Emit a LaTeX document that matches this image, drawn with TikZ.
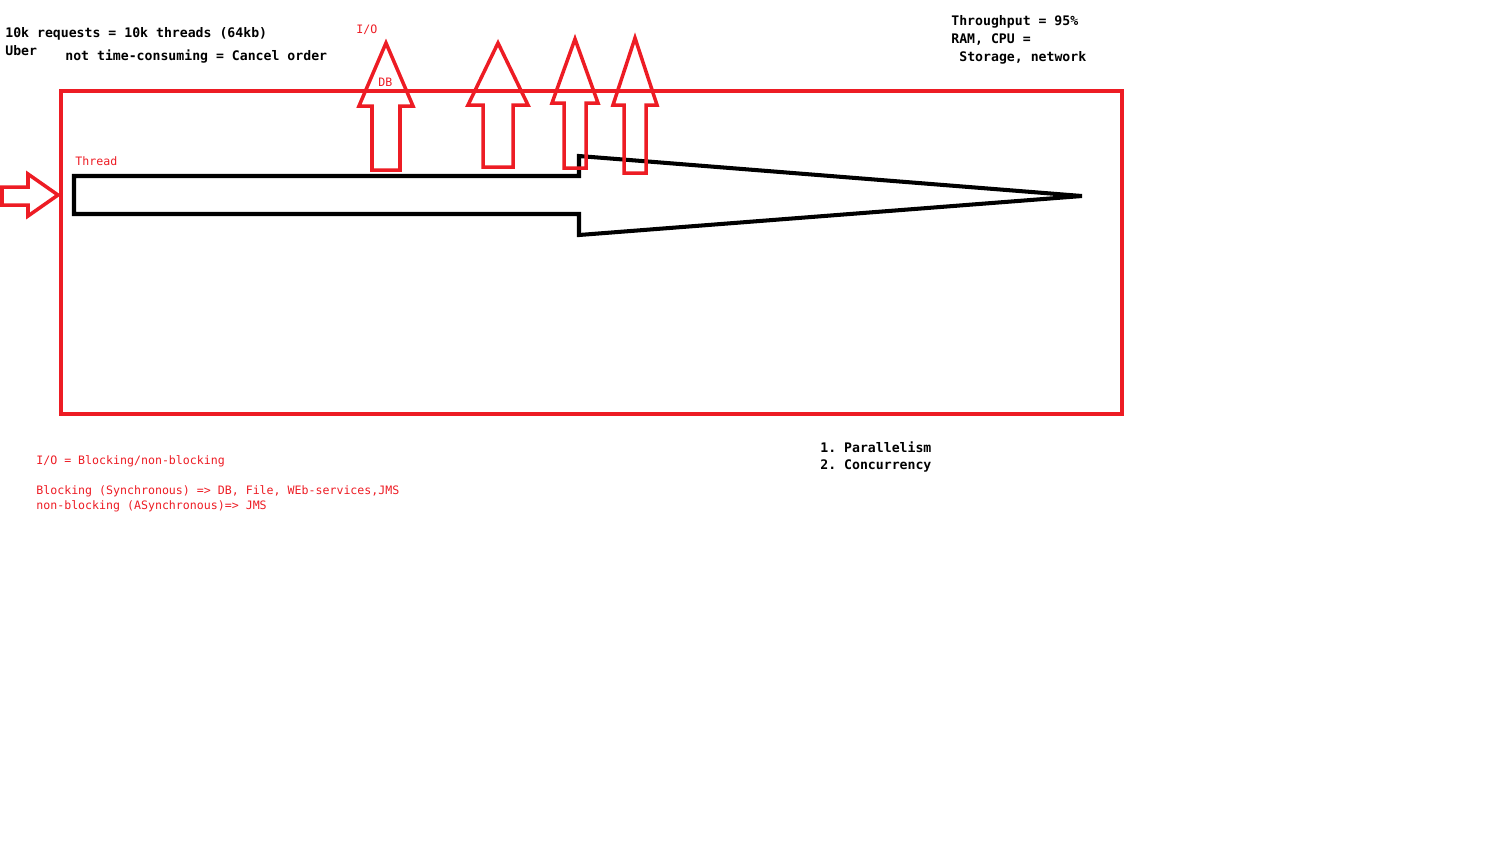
\documentclass[tikz,border=0pt]{standalone}
\usepackage{fontspec}
\setmonofont{DejaVu Sans Mono}
\definecolor{crojo}{HTML}{ED1C24}
\tikzset{
  marco/.style={draw=crojo,line width=1.8pt},
  hilo/.style={draw=black,line width=2.3pt,line join=miter},
  flechaio/.style={draw=crojo,line width=2pt,line join=miter},
  txt/.style={font=\ttfamily\bfseries\fontsize{7.5}{9}\selectfont,inner sep=0pt,anchor=west},
  txtr/.style={font=\ttfamily\fontsize{6.6}{8}\selectfont,text=crojo,inner sep=0pt,anchor=west},
}
\begin{document}
\begin{tikzpicture}[x=0.02cm,y=-0.02cm]
\useasboundingbox (0,0) rectangle (1500,840);

\draw[marco] (61,91) rectangle (1122,414);

\draw[hilo] (74,176) -- (579,176) -- (579,156) -- (1082,196) -- (579,235) -- (579,214) -- (74,214) -- cycle;

\draw[flechaio] (2,187) -- (28,187) -- (28,174) -- (58,195) -- (28,216) -- (28,205) -- (2,205) -- cycle;

\foreach \cx/\ty/\hw/\sw/\by/\ey in {386/43/27/14/106/170, 498/43/30/15/105/167, 575/39/23/11/103/168, 635/38/22/11/105/173}{
  \draw[flechaio] (\cx,\ty) -- (\cx+\hw,\by) -- (\cx+\sw,\by) -- (\cx+\sw,\ey)
    -- (\cx-\sw,\ey) -- (\cx-\sw,\by) -- (\cx-\hw,\by) -- cycle;
}

\node[txt] (titulo) at (5,33.5) {10k requests = 10k threads (64kb)};
\node[txt] (uber) at (5,51) {Uber};
\node[txt] (cancela) at (65,56) {not time-consuming = Cancel order};
\node[txtr] (io) at (356,30) {I/O};
\node[txtr] (db) at (378,82) {DB};
\node[txtr] (hilotxt) at (75,161.5) {Thread};

\node[txt] (thr) at (951,22) {Throughput = 95\%};
\node[txt] (ram) at (951,40) {RAM, CPU =};
\node[txt] (stor) at (959,58) {Storage, network};

\node[txt] (par) at (820,447) {1. Parallelism};
\node[txt] (conc) at (820,465.5) {2. Concurrency};

\node[txtr] (iobl) at (36,461) {I/O = Blocking/non-blocking};
\node[txtr] (bloq) at (36,491) {Blocking (Synchronous) => DB, File, WEb-services,JMS};
\node[txtr] (nobloq) at (36,506) {non-blocking (ASynchronous)=> JMS};

\end{tikzpicture}
\end{document}
